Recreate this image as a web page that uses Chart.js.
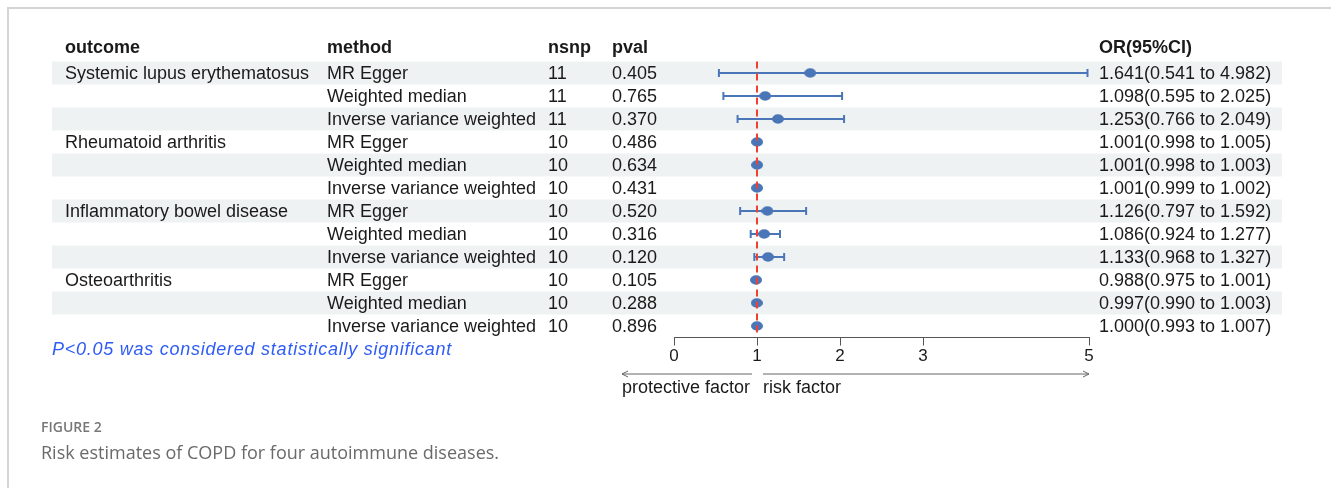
<!DOCTYPE html>
<html>
<head>
<meta charset="utf-8">
<script src="https://cdn.jsdelivr.net/npm/chart.js@4"></script>
<style>
  body { margin: 0; background: #fff; }
  #wrap { position: relative; width: 1331px; height: 488px; overflow: hidden; }
  #frame { position: absolute; left: 7px; top: 7px; right: -10px; bottom: -10px; border-left: 2px solid #d4d4d4; border-top: 2px solid #d4d4d4; }
  canvas { position: absolute; left: 0; top: 0; }
</style>
</head>
<body>
<div id="wrap">
  <div id="frame"></div>
  <canvas id="forest" width="1331" height="488"></canvas>
</div>
<script>
const outcomes = ['Systemic lupus erythematosus', '', '', 'Rheumatoid arthritis', '', '', 'Inflammatory bowel disease', '', '', 'Osteoarthritis', '', ''];
const methods = ['MR Egger', 'Weighted median', 'Inverse variance weighted',
    'MR Egger', 'Weighted median', 'Inverse variance weighted',
    'MR Egger', 'Weighted median', 'Inverse variance weighted',
    'MR Egger', 'Weighted median', 'Inverse variance weighted'];
const nsnp = [11, 11, 11, 10, 10, 10, 10, 10, 10, 10, 10, 10];
const pval = ['0.405', '0.765', '0.370', '0.486', '0.634', '0.431', '0.520', '0.316', '0.120', '0.105', '0.288', '0.896'];
const orValues = [1.641, 1.098, 1.253, 1.001, 1.001, 1.001, 1.126, 1.086, 1.133, 0.988, 0.997, 1.000];
const ciLower = [0.541, 0.595, 0.766, 0.998, 0.998, 0.999, 0.797, 0.924, 0.968, 0.975, 0.990, 0.993];
const ciUpper = [4.982, 2.025, 2.049, 1.005, 1.003, 1.002, 1.592, 1.277, 1.327, 1.001, 1.003, 1.007];
const xTicks = [0, 1, 2, 3, 5];

const FONT = '"Liberation Sans", Arial, sans-serif';
const BLUE = '#4a76b8';

// slightly flattened dot, like the original
const dot = document.createElement('canvas');
dot.width = 12;
dot.height = 10;
const dctx = dot.getContext('2d');
dctx.fillStyle = BLUE;
dctx.beginPath();
dctx.ellipse(6, 5, 6, 4.7, 0, 0, Math.PI * 2);
dctx.fill();

const tablePlugin = {
    id: 'tablePlugin',
    beforeDraw(chart) {
        const ctx = chart.ctx;
        const ys = chart.scales.y;
        ctx.save();
        ctx.fillStyle = '#eff2f2';
        for (let i = 1; i <= orValues.length; i += 2) {
            const top = ys.getPixelForValue(i - 0.5);
            const bottom = ys.getPixelForValue(i + 0.5);
            ctx.fillRect(52, top, 1230, bottom - top);
        }
        ctx.restore();
    },
    beforeDatasetsDraw(chart) {
        const ctx = chart.ctx;
        const xs = chart.scales.x, ys = chart.scales.y;
        ctx.save();
        ctx.strokeStyle = BLUE;
        ctx.lineWidth = 2;
        orValues.forEach((v, i) => {
            const y = ys.getPixelForValue(i + 1);
            const x1 = xs.getPixelForValue(ciLower[i]);
            const x2 = xs.getPixelForValue(ciUpper[i]);
            ctx.beginPath();
            ctx.moveTo(x1, y); ctx.lineTo(x2, y);
            ctx.moveTo(x1, y - 4); ctx.lineTo(x1, y + 4);
            ctx.moveTo(x2, y - 4); ctx.lineTo(x2, y + 4);
            ctx.stroke();
        });
        ctx.restore();
    },
    afterDatasetsDraw(chart) {
        const ctx = chart.ctx;
        const xs = chart.scales.x;
        const area = chart.chartArea;
        const x = xs.getPixelForValue(1);
        ctx.save();
        ctx.strokeStyle = '#f2402e';
        ctx.lineWidth = 2;
        ctx.setLineDash([7, 5]);
        ctx.beginPath();
        ctx.moveTo(x, area.top);
        ctx.lineTo(x, area.bottom - 2);
        ctx.stroke();
        ctx.restore();
    },
    afterDraw(chart) {
        const ctx = chart.ctx;
        const xs = chart.scales.x, ys = chart.scales.y;
        ctx.save();
        ctx.fillStyle = '#1a1a1a';
        ctx.textBaseline = 'middle';
        ctx.textAlign = 'left';

        // header
        const hy = 48;
        ctx.font = 'bold 18px ' + FONT;
        ctx.fillText('outcome', 65, hy);
        ctx.fillText('method', 327, hy);
        ctx.fillText('nsnp', 548, hy);
        ctx.fillText('pval', 612, hy);
        ctx.fillText('OR(95%CI)', 1099, hy);

        ctx.font = '18px ' + FONT;
        orValues.forEach((v, i) => {
            const y = ys.getPixelForValue(i + 1) + 1;
            ctx.fillText(outcomes[i], 65, y);
            ctx.fillText(methods[i], 327, y);
            ctx.fillText(String(nsnp[i]), 548, y);
            ctx.fillText(pval[i], 612, y);
            ctx.fillText(v.toFixed(3) + '(' + ciLower[i].toFixed(3) + ' to ' + ciUpper[i].toFixed(3) + ')', 1099, y);
        });

        // note
        ctx.fillStyle = '#2f5cf5';
        ctx.font = 'italic 18px ' + FONT;
        ctx.letterSpacing = '0.75px';
        ctx.fillText('P<0.05 was considered statistically significant', 52, 350);
        ctx.letterSpacing = '0px';

        // direction arrows
        const x1 = xs.getPixelForValue(1);
        const xl = xs.left - 52;
        const xr = xs.right;
        const ay = 374;
        ctx.strokeStyle = '#666';
        ctx.lineWidth = 1;
        ctx.beginPath();
        ctx.moveTo(x1 - 5, ay); ctx.lineTo(xl, ay);
        ctx.moveTo(xl + 6, ay - 3); ctx.lineTo(xl, ay); ctx.lineTo(xl + 6, ay + 3);
        ctx.moveTo(x1 + 6, ay); ctx.lineTo(xr, ay);
        ctx.moveTo(xr - 6, ay - 3); ctx.lineTo(xr, ay); ctx.lineTo(xr - 6, ay + 3);
        ctx.stroke();
        ctx.fillStyle = '#1a1a1a';
        ctx.font = '18px ' + FONT;
        ctx.fillText('protective factor', xl, 388);
        ctx.fillText('risk factor', x1 + 6, 388);

        // caption
        ctx.fillStyle = '#777';
        ctx.font = '600 14px "Open Sans", sans-serif';
        ctx.fillText('FIGURE 2', 41, 428);
        ctx.fillStyle = '#6a6a6a';
        ctx.font = '18px "Open Sans", sans-serif';
        ctx.fillText('Risk estimates of COPD for four autoimmune diseases.', 41, 454);
        ctx.restore();
    }
};

const ctxForest = document.getElementById('forest').getContext('2d');
const forestChart = new Chart(ctxForest, {
    type: 'scatter',
    data: {
        datasets: [{
            data: orValues.map((v, i) => ({ x: v, y: i + 1 })),
            pointStyle: dot,
            backgroundColor: BLUE,
            borderColor: BLUE
        }]
    },
    options: {
        responsive: false,
        animation: false,
        events: [],
        layout: {
            padding: { left: 674, right: 242, top: 61.5, bottom: 120.5 }
        },
        plugins: {
            legend: { display: false },
            tooltip: { enabled: false }
        },
        scales: {
            x: {
                type: 'linear',
                min: 0,
                max: 5,
                afterBuildTicks: (scale) => {
                    scale.ticks = xTicks.map(v => ({ value: v }));
                },
                afterFit: (scale) => {
                    scale.height = 30;
                },
                grid: {
                    drawOnChartArea: false,
                    drawTicks: true,
                    tickLength: 8,
                    color: '#555'
                },
                border: { color: '#555', width: 1 },
                ticks: {
                    color: '#1a1a1a',
                    padding: 1,
                    font: { size: 17, family: FONT }
                }
            },
            y: {
                type: 'linear',
                min: 0.5,
                max: 12.5,
                reverse: true,
                display: false
            }
        }
    },
    plugins: [tablePlugin]
});
</script>
</body>
</html>
